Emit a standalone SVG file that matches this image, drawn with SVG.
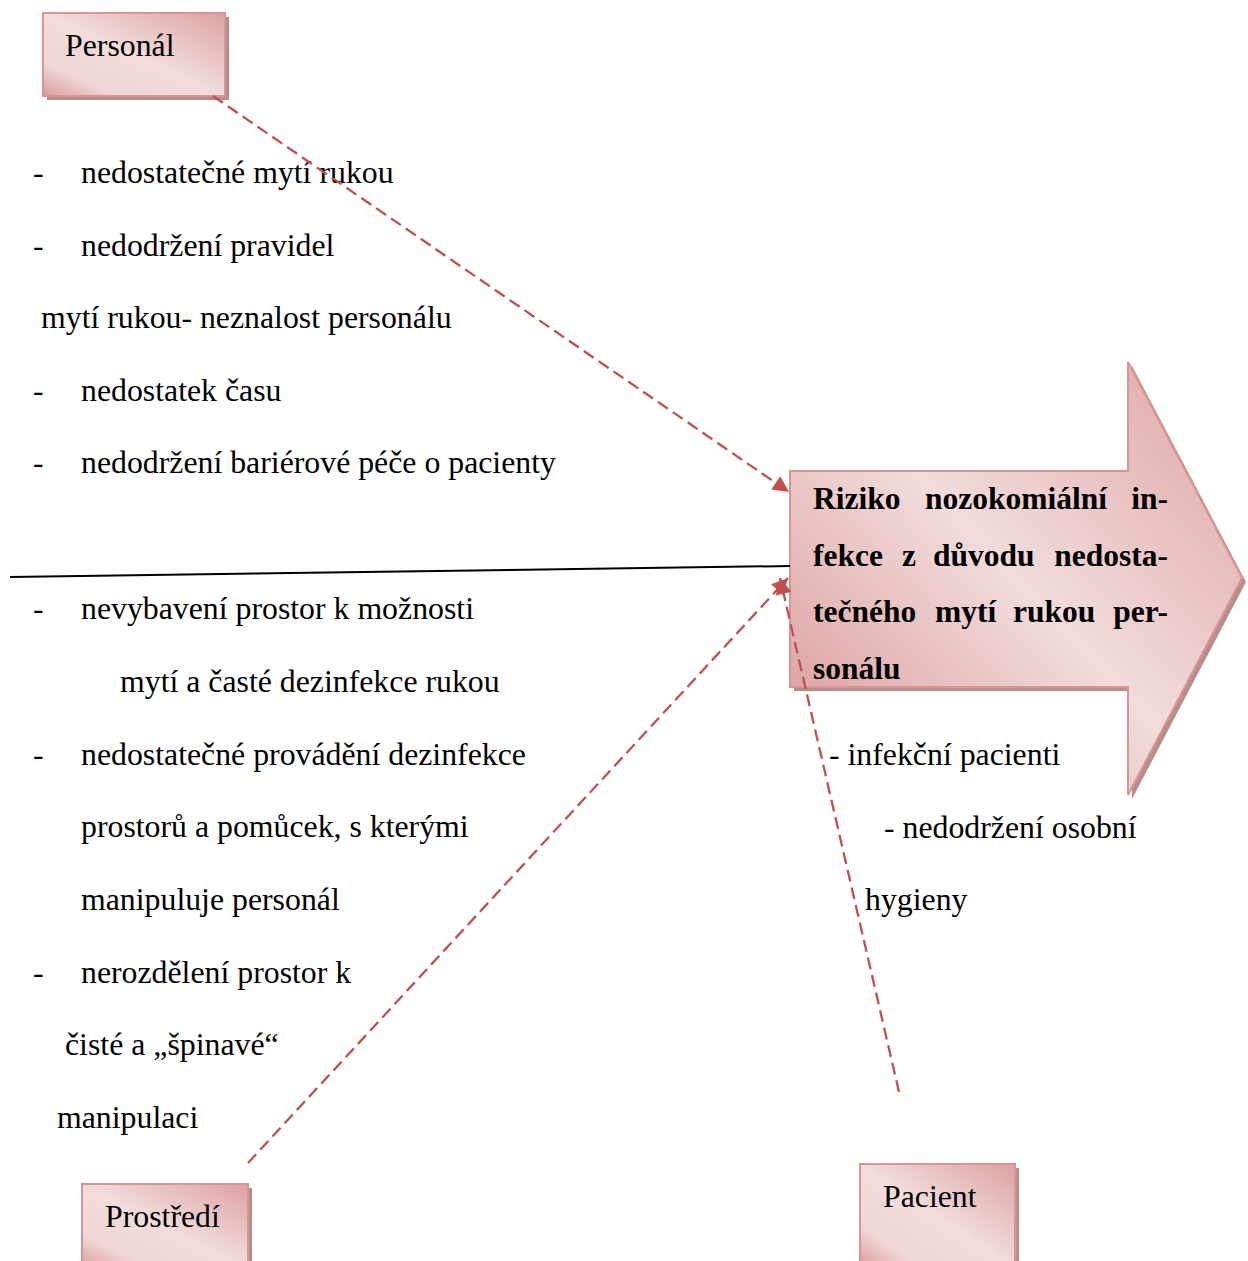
<svg xmlns="http://www.w3.org/2000/svg" width="1248" height="1261" viewBox="0 0 1248 1261">
  <defs>
    <linearGradient id="boxFill" x1="1" y1="0" x2="0" y2="1">
      <stop offset="0" stop-color="#dca1a0"/>
      <stop offset="0.5" stop-color="#f2dcdc"/>
      <stop offset="0.8" stop-color="#f0d6d6"/>
      <stop offset="1" stop-color="#d99a99"/>
    </linearGradient>
    <linearGradient id="arrowFill" gradientUnits="userSpaceOnUse" x1="1242" y1="362" x2="790" y2="795">
      <stop offset="0" stop-color="#dea3a2"/>
      <stop offset="0.5" stop-color="#f2dcdc"/>
      <stop offset="1" stop-color="#d99594"/>
    </linearGradient>
    <marker id="head" viewBox="0 0 10 10" refX="10" refY="5" markerWidth="8" markerHeight="7" markerUnits="strokeWidth" orient="auto">
      <path d="M0,0 L10,5 L0,10 z" fill="#c0504d"/>
    </marker>
    <style>
      .label { font-family: "Liberation Serif", "Times New Roman", "DejaVu Serif", serif; font-size: 31.8px; fill: #000; }
      .title { font-family: "Liberation Serif", "Times New Roman", "DejaVu Serif", serif; font-size: 31.5px; font-weight: bold; fill: #000; }
      .box { fill: url(#boxFill); stroke: #d99594; stroke-width: 2; }
      .shadow { fill: #b98c8c; }
      .link { fill: none; stroke: #c0504d; stroke-width: 2.3; stroke-dasharray: 12 6; }
    </style>
  </defs>

  <rect width="1248" height="1261" fill="#ffffff"/>

  <!-- cause boxes -->
  <g id="personal">
    <rect class="shadow" x="47" y="17" width="182" height="83"/>
    <rect class="box" x="43" y="13" width="182" height="83"/>
    <text class="label" x="65" y="56">Personál</text>
  </g>

  <g id="prostredi">
    <rect class="shadow" x="86" y="1188" width="166" height="80"/>
    <rect class="box" x="82" y="1184" width="166" height="84"/>
    <text class="label" x="105" y="1227">Prostředí</text>
  </g>

  <g id="pacient">
    <rect class="shadow" x="864" y="1168" width="155" height="100"/>
    <rect class="box" x="860" y="1164" width="155" height="104"/>
    <text class="label" x="883" y="1207">Pacient</text>
  </g>

  <!-- effect arrow -->
  <g id="riziko">
    <path class="shadow" d="M794,475 L1132,475 L1132,366 L1246,582 L1132,799 L1132,691 L794,691 z"/>
    <path d="M790,471 L1128,471 L1128,362 L1242,578 L1128,795 L1128,687 L790,687 z" fill="url(#arrowFill)" stroke="#d99594" stroke-width="2"/>
    <text class="title" y="509"><tspan x="813">Riziko</tspan><tspan x="925">nozokomiální</tspan></text>
    <text class="title" x="1168" y="509" text-anchor="end">in-</text>
    <text class="title" y="566"><tspan x="813">fekce</tspan><tspan x="902">z</tspan><tspan x="933">důvodu</tspan></text>
    <text class="title" x="1168" y="566" text-anchor="end">nedosta-</text>
    <text class="title" y="622"><tspan x="813">tečného</tspan><tspan x="935">mytí</tspan><tspan x="1013">rukou</tspan></text>
    <text class="title" x="1168" y="622" text-anchor="end">per-</text>
    <text class="title" x="813" y="679">sonálu</text>
  </g>

  <!-- cause lists -->
  <g id="personal-causes">
    <text class="label" x="33" y="182.5">-</text>
    <text class="label" x="81" y="182.5">nedostatečné mytí rukou</text>
    <text class="label" x="33" y="255.5">-</text>
    <text class="label" x="81" y="255.5">nedodržení pravidel</text>
    <text class="label" x="41" y="327.5">mytí rukou- neznalost personálu</text>
    <text class="label" x="33" y="400.5">-</text>
    <text class="label" x="81" y="400.5">nedostatek času</text>
    <text class="label" x="33" y="472.5">-</text>
    <text class="label" x="81" y="472.5">nedodržení bariérové péče o pacienty</text>
  </g>

  <g id="prostredi-causes">
    <text class="label" x="33" y="618.5">-</text>
    <text class="label" x="81" y="618.5">nevybavení prostor k možnosti</text>
    <text class="label" x="120" y="691.5">mytí a časté dezinfekce rukou</text>
    <text class="label" x="33" y="764.5">-</text>
    <text class="label" x="81" y="764.5">nedostatečné provádění dezinfekce</text>
    <text class="label" x="81" y="836.5">prostorů a pomůcek, s kterými</text>
    <text class="label" x="81" y="909.5">manipuluje personál</text>
    <text class="label" x="33" y="982.5">-</text>
    <text class="label" x="81" y="982.5">nerozdělení prostor k</text>
    <text class="label" x="65" y="1054.5">čisté a „špinavé“</text>
    <text class="label" x="57" y="1127.5">manipulaci</text>
  </g>

  <g id="pacient-causes">
    <text class="label" x="829" y="764.5">- infekční pacienti</text>
    <text class="label" x="884" y="837.5">- nedodržení osobní</text>
    <text class="label" x="865" y="909.5">hygieny</text>
  </g>

  <!-- connectors -->
  <g id="connectors">
    <line x1="10" y1="577" x2="790" y2="566" stroke="#000" stroke-width="2"/>
    <line class="link" x1="213" y1="96" x2="789" y2="492" marker-end="url(#head)"/>
    <line class="link" x1="248" y1="1163" x2="788" y2="578" marker-end="url(#head)"/>
    <line class="link" x1="899" y1="1092" x2="780" y2="578" marker-end="url(#head)"/>
  </g>
</svg>
